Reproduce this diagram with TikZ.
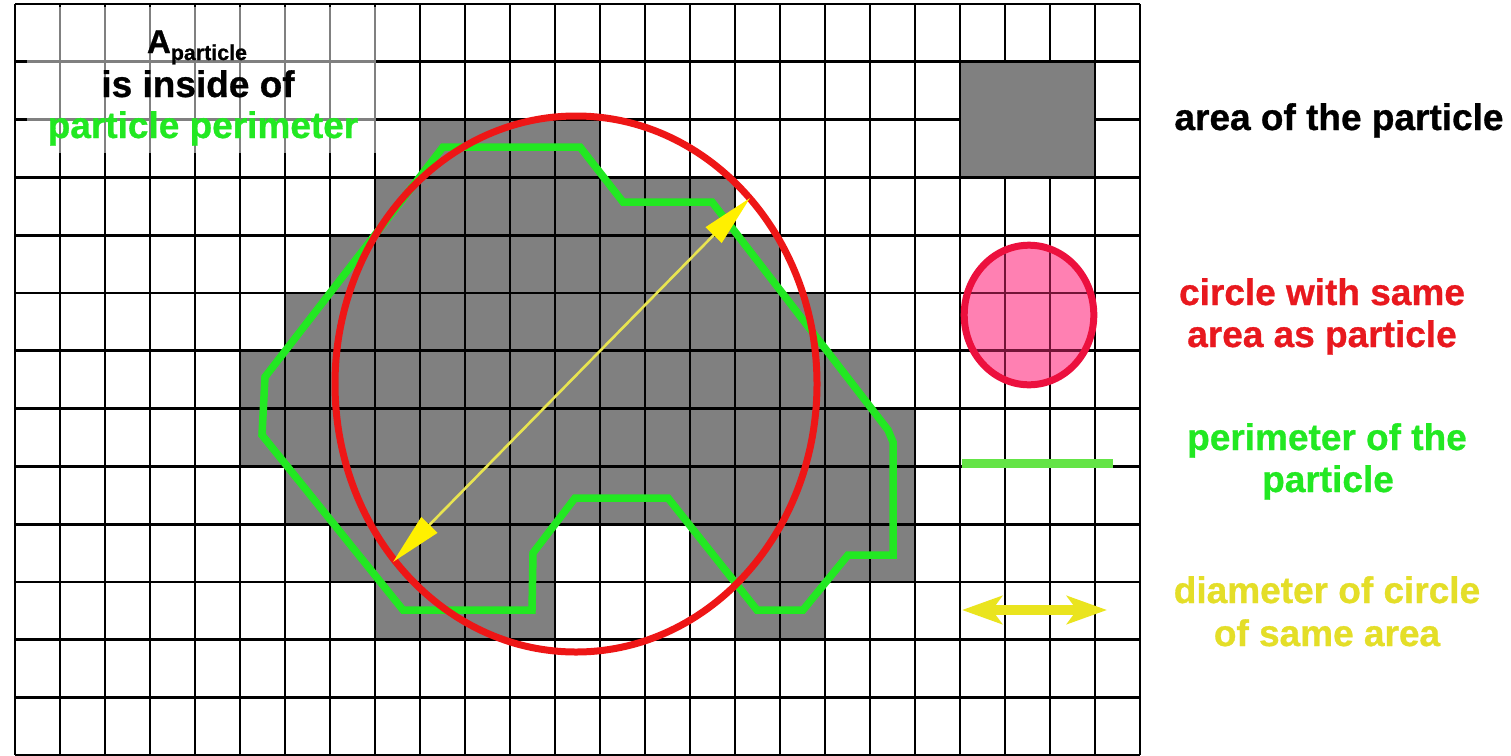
\documentclass[tikz,border=0pt]{standalone}
\usepackage{fontspec}
\setmainfont{Liberation Sans}[BoldFeatures={FakeBold=0.8}]
\usetikzlibrary{arrows.meta}
\definecolor{cellgray}{RGB}{128,128,128}
\definecolor{pgreen}{RGB}{34,232,34}
\definecolor{lgreen}{RGB}{100,228,70}
\definecolor{pred}{RGB}{238,22,22}
\definecolor{lred}{RGB}{232,24,30}
\definecolor{lcrim}{RGB}{236,16,62}
\definecolor{lpink}{RGB}{255,128,178}
\definecolor{maroonline}{RGB}{115,20,55}
\definecolor{dyel}{RGB}{232,228,80}
\definecolor{dyelhead}{RGB}{255,240,0}
\definecolor{lyel}{RGB}{234,228,30}
\definecolor{tyel}{RGB}{228,222,40}
\newcommand\grayrun[3]{\fill[cellgray] ({15+45*#1},{4+57.8*#2}) rectangle ({15+45*(#1+#3)},{4+57.8*(#2+1)});}
\begin{document}
\begin{tikzpicture}[x=1pt,y=-1pt,
  gridline/.style={line width=2.8pt, black},
  txt/.style={font=\fontsize{37}{42}\selectfont\bfseries, inner sep=0pt, anchor=base},
  perim/.style={pgreen, line width=7.5pt, line join=miter},
  circ/.style={pred, line width=7pt},
  diam/.style={dyel, line width=2.6pt, {Triangle[length=52pt,width=22pt,color=dyelhead]}-{Triangle[length=52pt,width=22pt,color=dyelhead]}},
  ]
\useasboundingbox (0,0) rectangle (1511,755);
\fill[white] (0,0) rectangle (1511,755);
% particle cells
\grayrun{9}{2}{4}
\grayrun{8}{3}{8}
\grayrun{7}{4}{10}
\grayrun{6}{5}{12}
\grayrun{5}{6}{14}
\grayrun{5}{7}{15}
\grayrun{6}{8}{14}
\grayrun{7}{9}{5}
\grayrun{15}{9}{5}
\grayrun{8}{10}{4}
\grayrun{16}{10}{2}
% legend pink circle fill
\fill[lpink] (1029,315) ellipse [x radius=64.8, y radius=69.8];
% grid
\foreach \i in {0,...,25} \draw[gridline] ({15+45*\i},4) -- ({15+45*\i},755);
\foreach \j in {0,...,13} \draw[gridline] (15,{4+57.8*\j}) -- (1140,{4+57.8*\j});
\begin{scope}
\clip (1029,315) ellipse [x radius=64.8, y radius=69.8];
\foreach \i in {21,...,24} \draw[gridline, maroonline] ({15+45*\i},200) -- ({15+45*\i},400);
\foreach \j in {4,5,6} \draw[gridline, maroonline] (950,{4+57.8*\j}) -- (1110,{4+57.8*\j});
\end{scope}
% legend area square (solid, no inner lines)
\filldraw[fill=cellgray, draw=black, line width=2.8pt] (960,61.8) rectangle (1095,177.6);
% white veil behind the title
\fill[white, opacity=0.5] (27,7) rectangle (376,153);
% perimeter
\draw[perim] (265,377) -- (443,147) -- (580,147) -- (623,202) -- (712,202) -- (888,430) -- (893,442) -- (893,555) -- (848,555) -- (803,610) -- (757,610) -- (668,498) -- (575,498) -- (533,553) -- (532,610) -- (403,610) -- (262,435) -- cycle;
% equivalent circle
\draw[circ] (576,384) ellipse [x radius=241, y radius=268];
% diameter
\coordinate (dA) at (393,562);
\coordinate (dB) at (750,198);
\draw[diam] (dA) -- (dB);
% legend symbols
\draw[lcrim, line width=7pt] (1029,315) ellipse [x radius=64.8, y radius=69.8];
\coordinate (gl1) at (962,463);
\coordinate (gl2) at (1113,463);
\draw[lgreen, line width=9pt] (gl1) -- (gl2);
\coordinate (yl1) at (962,610);
\coordinate (yl2) at (1107,610);
\draw[lyel, line width=10pt, {Stealth[length=40pt,width=28pt,inset=10pt]}-{Stealth[length=40pt,width=28pt,inset=10pt]}] (yl1) -- (yl2);
% texts
\node[txt] (ta) at (197,53) {{\fontsize{33}{40}\selectfont A}\raisebox{-7pt}{\fontsize{21.4}{24}\selectfont particle}};
\node[txt] (tb) at (198,97) {is inside of};
\node[txt, text=pgreen] (tc) at (203,138) {particle perimeter};
\node[txt] (la) at (1339,130) {area of the particle};
\node[txt, text=lred] (lb1) at (1322,305) {circle with same};
\node[txt, text=lred] (lb2) at (1322,347) {area as particle};
\node[txt, text=pgreen] (lc1) at (1327,450) {perimeter of the};
\node[txt, text=pgreen] (lc2) at (1328,492) {particle};
\node[txt, text=tyel] (ld1) at (1327,603) {diameter of circle};
\node[txt, text=tyel] (ld2) at (1327,646) {of same area};
\end{tikzpicture}
\end{document}
